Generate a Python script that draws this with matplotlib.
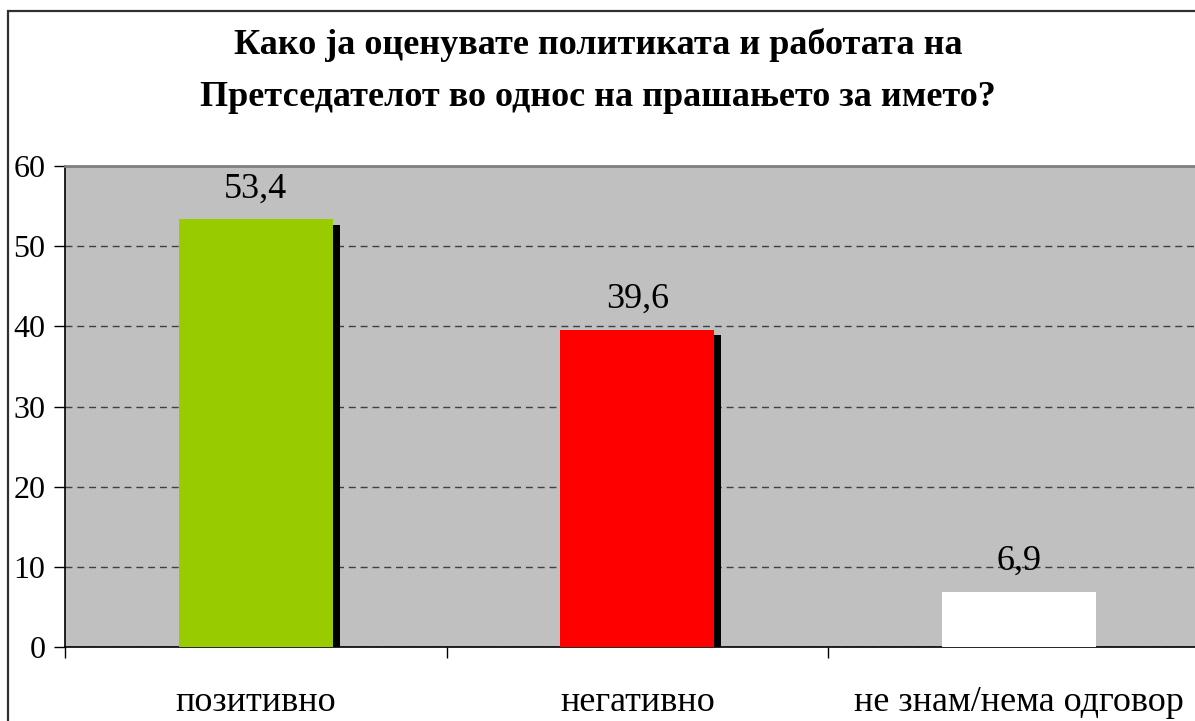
import matplotlib.pyplot as plt
from matplotlib.patches import Rectangle

plt.rcParams['font.family'] = ['Liberation Serif', 'DejaVu Serif']

categories = ['позитивно', 'негативно', 'не знам/нема одговор']
values = [53.4, 39.6, 6.9]
labels = ['53,4', '39,6', '6,9']
colors = ['#99CC00', '#FF0000', '#FFFFFF']
has_shadow = [True, True, False]
title = 'Како ја оценувате политиката и работата на\nПретседателот во однос на прашањето за името?'

fig = plt.figure(figsize=(11.95, 7.21), dpi=100)
W, H = 1195, 721

# plot area in pixels: left 65, top 166, bottom 647, right at 1209.5 (past the edge)
ax = fig.add_axes([65 / W, 1 - 647 / H, 1144.5 / W, (647 - 166) / H])
ax.set_facecolor('#C0C0C0')

x = list(range(len(categories)))
bw = 0.404
# shadows: offset right and down
for i, v in enumerate(values):
    if has_shadow[i]:
        ax.bar(i + 0.018, v - 0.7, width=bw, color='black', zorder=2, linewidth=0)
ax.bar(x, values, width=bw, color=colors, zorder=3, linewidth=0)

for i, v in enumerate(values):
    ax.text(i, v + 2.7, labels[i], ha='center', va='baseline', fontsize=26, zorder=4)

ax.set_xlim(-0.5, 2.5)
ax.set_ylim(0, 60)
ax.set_yticks(range(0, 61, 10))
ax.yaxis.grid(True, linestyle=(0, (5, 3.5)), color='#404040', linewidth=1.0, zorder=1)
ax.set_axisbelow(True)

ax.set_xticks([-0.5, 0.5, 1.5])
ax.set_xticklabels([])
ax.set_xticks(x, minor=True)
ax.set_xticklabels(categories, minor=True, fontsize=26)
ax.tick_params(axis='x', which='minor', length=0, pad=28)
ax.tick_params(axis='x', which='major', length=8, width=1, direction='out')
ax.tick_params(axis='y', length=8, width=1, direction='out', labelsize=23, pad=6)

ax.spines['top'].set_color('#808080')
ax.spines['top'].set_linewidth(2)
ax.spines['right'].set_visible(False)
ax.spines['left'].set_linewidth(1.2)
ax.spines['bottom'].set_linewidth(1.2)

fig.text(598 / W, 1 - 71 / H, title, ha='center', va='center', fontsize=26,
         fontweight='bold', linespacing=1.78)

# outer chart border (left and top visible)
fig.patches.append(Rectangle((8 / W, -0.1), 1.2, 1 - 11 / H + 0.1, transform=fig.transFigure,
                             fill=False, edgecolor='#303030', linewidth=1.6))

fig.savefig('out.png', dpi=100)
